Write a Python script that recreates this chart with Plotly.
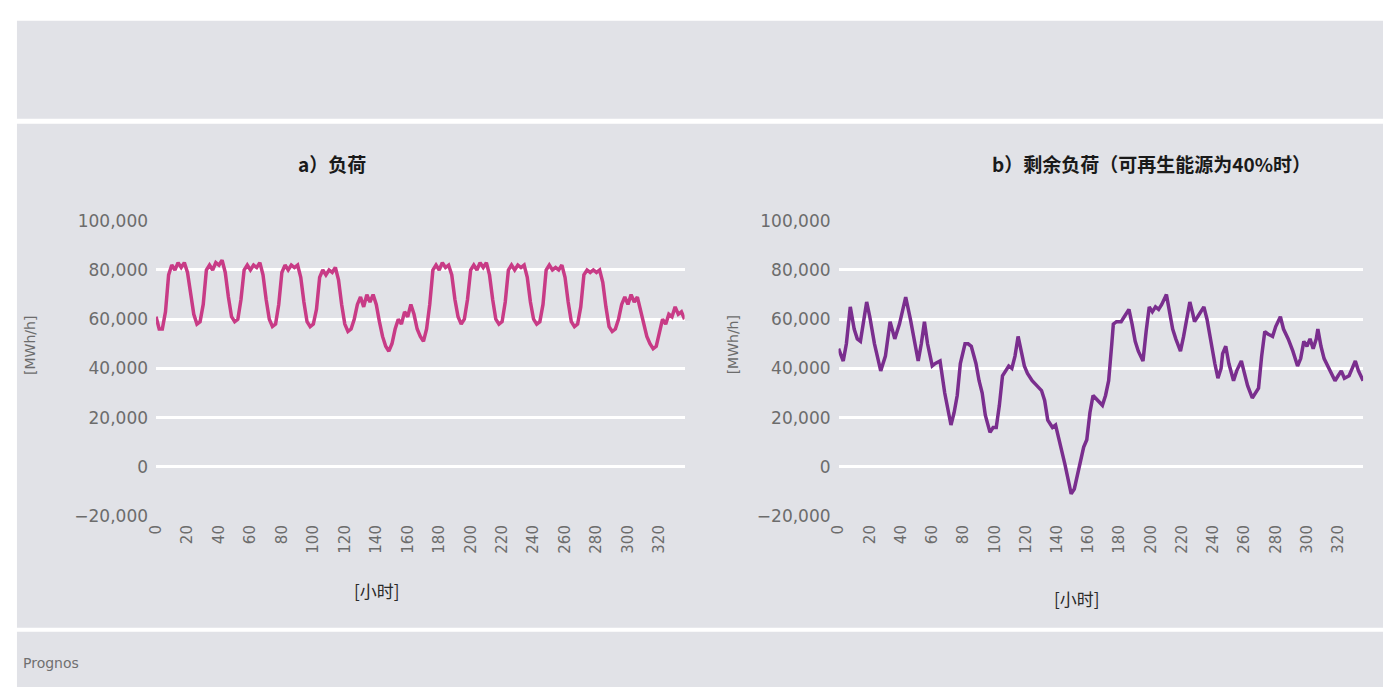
import plotly.graph_objects as go

# --- data -------------------------------------------------------------------
# a) load, hourly profile over two weeks [MWh/h]
load_hours = [
    0, 2, 4, 6, 8, 10, 12, 14, 16, 18, 20, 22,
    24, 26, 28, 30, 32, 34, 36, 38, 40, 42, 44, 46,
    48, 50, 52, 54, 56, 58, 60, 62, 64, 66, 68, 70,
    72, 74, 76, 78, 80, 82, 84, 86, 88, 90, 92, 94,
    96, 98, 100, 102, 104, 106, 108, 110, 112, 114, 116, 118,
    120, 122, 124, 126, 128, 130, 132, 134, 136, 138, 140, 142,
    144, 146, 148, 150, 152, 154, 156, 158, 160, 162, 164, 166,
    168, 170, 172, 174, 176, 178, 180, 182, 184, 186, 188, 190,
    192, 194, 196, 198, 200, 202, 204, 206, 208, 210, 212, 214,
    216, 218, 220, 222, 224, 226, 228, 230, 232, 234, 236, 238,
    240, 242, 244, 246, 248, 250, 252, 254, 256, 258, 260, 262,
    264, 266, 268, 270, 272, 274, 276, 278, 280, 282, 284, 286,
    288, 290, 292, 294, 296, 298, 300, 302, 304, 306, 308, 310,
    312, 314, 316, 318, 320, 322, 324, 326, 328, 330, 332, 334, 336,
]
load_values = [
    61000, 56000, 56000, 63000, 78000, 82000, 80000, 83000, 81000, 83000, 79000, 70000,
    62000, 58000, 59000, 66000, 80000, 82000, 80000, 83000, 82000, 84000, 79000, 69000,
    61000, 59000, 60000, 68000, 80000, 82000, 80000, 82000, 81000, 83000, 78000, 68000,
    60000, 57000, 58000, 66000, 79000, 82000, 80000, 82000, 81000, 82000, 77000, 67000,
    59000, 57000, 58000, 64000, 77000, 80000, 78000, 80000, 79000, 81000, 76000, 66000,
    58000, 55000, 56000, 60000, 66000, 69000, 65000, 70000, 67000, 70000, 66000, 59000,
    53000, 49000, 47000, 50000, 56000, 60000, 58000, 63000, 61000, 66000, 62000, 56000,
    53000, 51000, 56000, 66000, 80000, 82000, 80000, 83000, 81000, 82000, 78000, 68000,
    61000, 58000, 60000, 68000, 80000, 82000, 80000, 83000, 81000, 83000, 78000, 68000,
    60000, 58000, 59000, 67000, 80000, 82000, 80000, 82000, 81000, 82000, 77000, 67000,
    60000, 58000, 59000, 66000, 80000, 82000, 80000, 81000, 80000, 82000, 77000, 67000,
    59000, 57000, 58000, 65000, 78000, 80000, 79000, 80000, 79000, 80000, 75000, 65000,
    57000, 55000, 56000, 60000, 66000, 69000, 66000, 70000, 67000, 69000, 64000, 58000,
    53000, 50000, 48000, 49000, 55000, 60000, 58000, 62000, 61000, 65000, 62000, 63000, 60000,
]

# b) residual load at 40 % renewables [MWh/h]
residual_hours = [
    0, 3, 5, 7.5, 10, 12, 14, 16, 18, 20, 23, 27, 30, 33, 36, 39, 41, 43, 46, 49,
    51, 53, 55, 57, 60, 62, 65, 68, 70, 72, 74, 76, 78, 81, 83, 85, 88, 90, 92, 94,
    97, 99, 101, 103, 105, 107, 109, 111, 113, 115, 117, 119, 121, 124, 127, 130,
    132, 134, 136, 137, 139, 141, 143, 145, 147, 149, 151, 153, 155, 157, 159, 161,
    163, 166, 169, 171, 173, 175, 176, 178, 181, 183, 186, 188, 190, 192, 195, 197,
    199, 201, 203, 205, 207, 210, 212, 214, 216, 219, 221, 223, 225, 227, 228, 230,
    232, 234, 236, 237, 239, 241, 243, 245, 246, 248, 250, 253, 255, 258, 260, 262,
    265, 267, 269, 271, 273, 275, 278, 280, 283, 285, 288, 291, 294, 296, 298, 300,
    302, 304, 306, 307, 309, 311, 314, 316, 318, 320, 322, 324, 327, 329, 331, 333, 336,
]
residual_values = [
    48000, 43000, 50000, 65000, 56000, 52000, 51000, 60000, 67000, 61000, 50000, 39000,
    45000, 59000, 52000, 58000, 63000, 69000, 60000, 50000, 43000, 50000, 59000, 50000,
    41000, 42000, 43000, 30000, 24000, 17000, 22000, 29000, 42000, 50000, 50000, 49000,
    42000, 35000, 30000, 21000, 14000, 16000, 16000, 25000, 37000, 39000, 41000, 40000,
    45000, 53000, 47000, 41000, 38000, 35000, 33000, 31000, 27000, 19000, 17000, 16000,
    17000, 12000, 7000, 1000, -5000, -11000, -9000, -3000, 2000, 8000, 11000, 22000,
    29000, 27000, 25000, 29000, 35000, 50000, 58000, 59000, 59000, 61000, 64000, 58000,
    51000, 47000, 43000, 55000, 65000, 63000, 65000, 64000, 66000, 70000, 63000, 56000,
    52000, 47000, 53000, 61000, 67000, 62000, 59000, 61000, 63000, 65000, 60000, 56000,
    50000, 42000, 36000, 40000, 46000, 49000, 42000, 35000, 39000, 43000, 38000, 33000,
    28000, 30000, 32000, 45000, 55000, 54000, 53000, 57000, 61000, 56000, 52000, 47000,
    41000, 44000, 51000, 49000, 52000, 48000, 52000, 56000, 49000, 44000, 40000, 38000,
    35000, 37000, 39000, 36000, 37000, 40000, 43000, 39000, 35000,
]

# axis ticks
x_ticks = [0, 20, 40, 60, 80, 100, 120, 140, 160, 180, 200, 220, 240, 260, 280, 300, 320]
y_ticks = [-20000, 0, 20000, 40000, 60000, 80000, 100000]
y_tick_text = ["\u221220,000", "0", "20,000", "40,000", "60,000", "80,000", "100,000"]

# --- figure -----------------------------------------------------------------
W, H = 1383, 697
BG = "#e1e2e7"
TICK_COLOR = "#6c6c6c"
LATIN = "DejaVu Sans"
CJK = "Noto Sans CJK SC"


def px_x(x):
    """page x (px) -> paper fraction"""
    return x / W


def px_y(y):
    """page y (px) -> paper fraction"""
    return 1 - y / H


fig = go.Figure()

fig.add_trace(go.Scatter(
    x=load_hours, y=load_values, mode="lines",
    line=dict(color="#c83b86", width=3.5),
    xaxis="x", yaxis="y", showlegend=False, hoverinfo="skip",
))
fig.add_trace(go.Scatter(
    x=residual_hours, y=residual_values, mode="lines",
    line=dict(color="#7a2e8e", width=3.5),
    xaxis="x2", yaxis="y2", showlegend=False, hoverinfo="skip",
))

xaxis_common = dict(
    range=[0, 336], tickmode="array", tickvals=x_ticks,
    ticktext=[str(t) for t in x_ticks], tickangle=-90,
    tickfont=dict(family=LATIN, size=15, color=TICK_COLOR),
    showgrid=False, zeroline=False, showline=False, ticks="",
    ticklabelstandoff=5, fixedrange=True,
)
yaxis_common = dict(
    range=[-20000, 100000], tickmode="array", tickvals=y_ticks,
    ticktext=y_tick_text,
    tickfont=dict(family=LATIN, size=17, color=TICK_COLOR),
    showgrid=True, gridcolor="#ffffff", gridwidth=3,
    zeroline=False, showline=False, ticks="",
    ticklabelstandoff=7, fixedrange=True,
)

y_dom = [px_y(521), px_y(217)]
fig.update_layout(
    width=W, height=H,
    margin=dict(l=0, r=0, t=0, b=0),
    paper_bgcolor="#ffffff",
    plot_bgcolor="rgba(0,0,0,0)",
    xaxis=dict(domain=[px_x(148), px_x(680)], anchor="y", **xaxis_common),
    yaxis=dict(domain=y_dom, anchor="x", **yaxis_common),
    xaxis2=dict(domain=[px_x(835), px_x(1363)], anchor="y2", **xaxis_common),
    yaxis2=dict(domain=y_dom, anchor="x2", **yaxis_common),
)

# grey panels separated by thin white rules
for top, bottom in [(11, 112), (117, 636), (640, H)]:
    fig.add_shape(
        type="rect", xref="paper", yref="paper",
        x0=px_x(8), x1=1, y0=px_y(bottom), y1=px_y(top),
        fillcolor=BG, line=dict(width=0), layer="below",
    )


def label(x, y, text, size, color, family, **kw):
    fig.add_annotation(
        x=px_x(x), y=px_y(y), xref="paper", yref="paper",
        xanchor=kw.pop("xanchor", "center"), yanchor="middle",
        text=text, showarrow=False,
        font=dict(family=family, size=size, color=color), **kw,
    )


# panel titles
label(325, 158, "<b>a）负荷</b>", 19, "#1a1a1a", CJK)
label(1150, 158, "<b>b）剩余负荷（可再生能源为40%时）</b>", 19, "#1a1a1a", CJK)

# axis titles
label(370, 598, "[小时]", 17, "#2a2a2a", CJK)
label(1075, 606, "[小时]", 17, "#2a2a2a", CJK)
label(21, 345, "[MWh/h]", 14, TICK_COLOR, LATIN, textangle=-90)
label(729, 345, "[MWh/h]", 14, TICK_COLOR, LATIN, textangle=-90)

# source note
label(12, 672, "Prognos", 14, "#707070", LATIN, xanchor="left")

fig.write_html("out.html")
